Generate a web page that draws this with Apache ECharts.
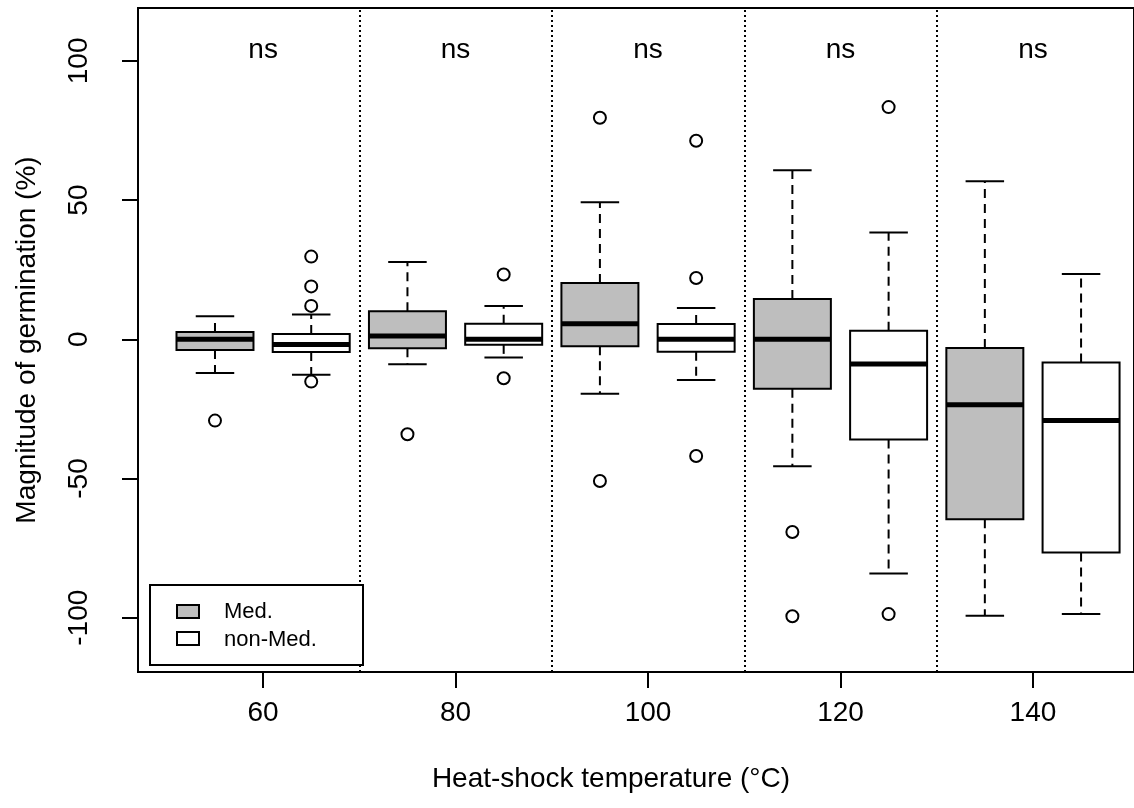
<!DOCTYPE html>
<html style="height: 100%">
  <head>
    <meta charset="utf-8" />
  </head>
  <body style="height: 100%; margin: 0; background: #fff">
    <div id="container" style="width: 1134px; height: 808px"></div>
    <script type="text/javascript" src="https://cdn.jsdelivr.net/npm/echarts@6/dist/echarts.min.js"></script>
    <script type="text/javascript">
      // heat-shock temperatures (group centres on the x axis)
      var temps = [60, 80, 100, 120, 140];
      var yTicks = [-100, -50, 0, 50, 100];
      var groupLabels = ['ns', 'ns', 'ns', 'ns', 'ns'];

      // [lower whisker, Q1, median, Q3, upper whisker]
      var medStats = [
        [-12.1, -3.8, 0, 2.6, 8.3],
        [-9.0, -3.2, 1.2, 10.1, 27.8],
        [-19.6, -2.5, 5.6, 20.2, 49.2],
        [-45.6, -17.8, 0, 14.5, 60.7],
        [-99.3, -64.6, -23.5, -3.1, 56.8]
      ];
      var nonMedStats = [
        [-12.7, -4.6, -1.9, 1.9, 8.9],
        [-6.5, -2.0, 0, 5.6, 12.0],
        [-14.6, -4.5, 0, 5.5, 11.2],
        [-84.1, -36.0, -8.9, 3.1, 38.4],
        [-98.7, -76.6, -29.2, -8.3, 23.5]
      ];
      var medOutliers = [[-29.2], [-34.1], [79.6, -50.9], [-69.2, -99.5], []];
      var nonMedOutliers = [[29.7, 19.0, 12.0, -15.2], [23.3, -14.0], [71.3, 22.0, -41.9], [83.4, -98.7], []];

      var dom = document.getElementById('container');
      var myChart = echarts.init(dom);
      var option;

      var font = 'Liberation Sans, Arial, sans-serif';
      var offset = 5;   // box position relative to group centre
      var boxW = 8;     // box width in x units
      var nsY = 103.8;

      function boxData(stats, shift) {
        return stats.map(function (s, i) {
          return [temps[i] + shift].concat(s);
        });
      }
      function outlierData(list, shift) {
        var out = [];
        list.forEach(function (vals, i) {
          vals.forEach(function (v) {
            out.push([temps[i] + shift, v]);
          });
        });
        return out;
      }

      function makeRender(fill) {
        return function (params, api) {
          var x = api.value(0);
          var w = api.size([boxW, 0])[0];
          var lo = api.coord([x, api.value(1)]);
          var q1 = api.coord([x, api.value(2)]);
          var md = api.coord([x, api.value(3)]);
          var q3 = api.coord([x, api.value(4)]);
          var hi = api.coord([x, api.value(5)]);
          var cx = lo[0];
          var dash = { stroke: '#000', lineWidth: 2, lineDash: [9, 6] };
          var solid = { stroke: '#000', lineWidth: 2 };
          return {
            type: 'group',
            children: [
              { type: 'line', shape: { x1: cx, y1: q3[1], x2: cx, y2: hi[1] }, style: dash },
              { type: 'line', shape: { x1: cx, y1: q1[1], x2: cx, y2: lo[1] }, style: dash },
              { type: 'line', shape: { x1: cx - w / 4, y1: hi[1], x2: cx + w / 4, y2: hi[1] }, style: solid },
              { type: 'line', shape: { x1: cx - w / 4, y1: lo[1], x2: cx + w / 4, y2: lo[1] }, style: solid },
              {
                type: 'rect',
                shape: { x: cx - w / 2, y: q3[1], width: w, height: q1[1] - q3[1] },
                style: { fill: fill, stroke: '#000', lineWidth: 2 }
              },
              { type: 'line', shape: { x1: cx - w / 2, y1: md[1], x2: cx + w / 2, y2: md[1] }, style: { stroke: '#000', lineWidth: 5 } }
            ]
          };
        };
      }

      var outlierStyle = { color: '#fff', borderColor: '#000', borderWidth: 2, opacity: 1 };

      option = {
        animation: false,
        backgroundColor: '#fff',
        grid: { left: 138, top: 8, right: -4, bottom: 136, show: true, borderColor: '#000', borderWidth: 2 },
        xAxis: {
          type: 'value',
          min: 47,
          max: 150.5,
          splitLine: { show: false },
          axisLine: { onZero: false, lineStyle: { color: '#000', width: 2 } },
          axisTick: { customValues: temps, length: 16, lineStyle: { color: '#000', width: 2 } },
          axisLabel: { customValues: temps, margin: 27, fontSize: 28, color: '#000', fontFamily: font }
        },
        yAxis: {
          type: 'value',
          min: -119.5,
          max: 119,
          splitLine: { show: false },
          axisLine: { show: true, onZero: false, lineStyle: { color: '#000', width: 2 } },
          axisTick: { show: true, customValues: yTicks, length: 16, lineStyle: { color: '#000', width: 2 } },
          axisLabel: { customValues: yTicks, rotate: 90, margin: 45, fontSize: 28, color: '#000', fontFamily: font },
          name: 'Magnitude of germination (%)',
          nameLocation: 'middle',
          nameGap: 97,
          nameTextStyle: { fontSize: 28, color: '#000', fontFamily: font }
        },
        series: [
          {
            type: 'scatter',
            symbolSize: 0,
            itemStyle: { opacity: 1 },
            data: temps.map(function (t, i) { return [t, nsY, groupLabels[i]]; }),
            label: {
              show: true,
              position: 'inside',
              formatter: function (p) { return p.data[2]; },
              fontSize: 28,
              color: '#000',
              fontFamily: font
            },
            markLine: {
              silent: true,
              symbol: 'none',
              label: { show: false },
              lineStyle: { color: '#000', width: 2, type: [2, 3] },
              data: [{ xAxis: 70 }, { xAxis: 90 }, { xAxis: 110 }, { xAxis: 130 }]
            }
          },
          { type: 'custom', renderItem: makeRender('#bebebe'), data: boxData(medStats, -offset), encode: { x: 0, y: [1, 5] } },
          { type: 'custom', renderItem: makeRender('#ffffff'), data: boxData(nonMedStats, offset), encode: { x: 0, y: [1, 5] } },
          { type: 'scatter', symbol: 'circle', symbolSize: 12, itemStyle: outlierStyle, data: outlierData(medOutliers, -offset) },
          { type: 'scatter', symbol: 'circle', symbolSize: 12, itemStyle: outlierStyle, data: outlierData(nonMedOutliers, offset) }
        ],
        graphic: [
          {
            type: 'text', x: 611, y: 779,
            style: { text: 'Heat-shock temperature (°C)', fontSize: 28, fill: '#000', fontFamily: font, align: 'center', verticalAlign: 'middle' }
          },
          { type: 'rect', left: 149, top: 584, z: 100, shape: { width: 213, height: 80 }, style: { fill: '#fff', stroke: '#000', lineWidth: 2 } },
          { type: 'rect', left: 176, top: 604, z: 101, shape: { width: 22, height: 13 }, style: { fill: '#bebebe', stroke: '#000', lineWidth: 2 } },
          { type: 'rect', left: 176, top: 631, z: 101, shape: { width: 22, height: 13 }, style: { fill: '#fff', stroke: '#000', lineWidth: 2 } },
          { type: 'text', left: 224, top: 601, z: 101, style: { text: 'Med.', fontSize: 22, fill: '#000', fontFamily: font } },
          { type: 'text', left: 224, top: 629, z: 101, style: { text: 'non-Med.', fontSize: 22, fill: '#000', fontFamily: font } }
        ]
      };

      myChart.setOption(option);
    </script>
  </body>
</html>
